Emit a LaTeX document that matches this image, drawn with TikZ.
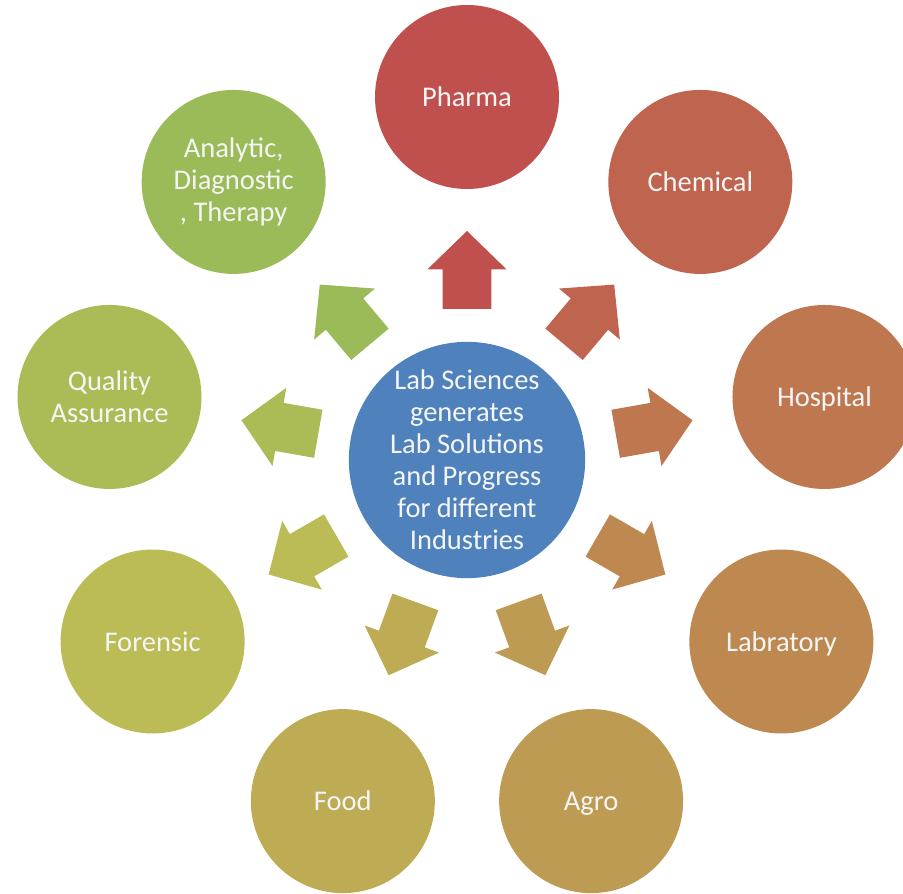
\documentclass[tikz,border=0pt]{standalone}
\usepackage{fontspec}
\setmainfont{Carlito}
\definecolor{c0}{HTML}{C0504D}
\definecolor{c1}{HTML}{BF644E}
\definecolor{c2}{HTML}{BF7750}
\definecolor{c3}{HTML}{BE8951}
\definecolor{c4}{HTML}{BD9B53}
\definecolor{c5}{HTML}{BDAC54}
\definecolor{c6}{HTML}{BCBC56}
\definecolor{c7}{HTML}{ABBC57}
\definecolor{c8}{HTML}{9BBB59}
\definecolor{hubblue}{HTML}{4F81BD}
\begin{document}
\begin{tikzpicture}[x=1pt,y=1pt,
  txt/.style={text=white!96!black, align=center, inner sep=0pt, font=\fontsize{28.5}{32}\selectfont},
  outer/.style={circle, minimum size=184pt, txt},
  oneline/.style={text height=19.5pt, text depth=0pt},
  hub/.style={circle, minimum size=234pt, txt}]
\useasboundingbox (-467,-434) rectangle (436,460);
\node[hub, fill=hubblue] (center) at (0,0) {Lab Sciences\\generates\\Lab Solutions\\and Progress\\for different\\Industries};
\node[outer, oneline, fill=c0] (pharma) at (90:363) {Pharma};
\node[outer, oneline, fill=c1] (chemical) at (50:363) {Chemical};
\node[outer, oneline, fill=c2] (hospital) at (10:363) {Hospital};
\node[outer, oneline, fill=c3] (labratory) at (-30:363) {Labratory};
\node[outer, oneline, fill=c4] (agro) at (-70:363) {Agro};
\node[outer, oneline, fill=c5] (food) at (-110:363) {Food};
\node[outer, oneline, fill=c6] (forensic) at (-150:363) {Forensic};
\node[outer, fill=c7] (qa) at (170:363) {Quality\\Assurance};
\node[outer, fill=c8] (analytic) at (130:363) {Analytic,\\Diagnostic\\, Therapy};
\foreach \a/\c in {90/c0, 50/c1, 10/c2, -30/c3, -70/c4, -110/c5, -150/c6, 170/c7, 130/c8}{
  \fill[\c, rotate=\a] (151,-24.4) -- (190.5,-24.4) -- (190.5,-39.7) -- (229,0)
    -- (190.5,39.7) -- (190.5,24.4) -- (151,24.4) -- cycle;
}
\end{tikzpicture}
\end{document}
